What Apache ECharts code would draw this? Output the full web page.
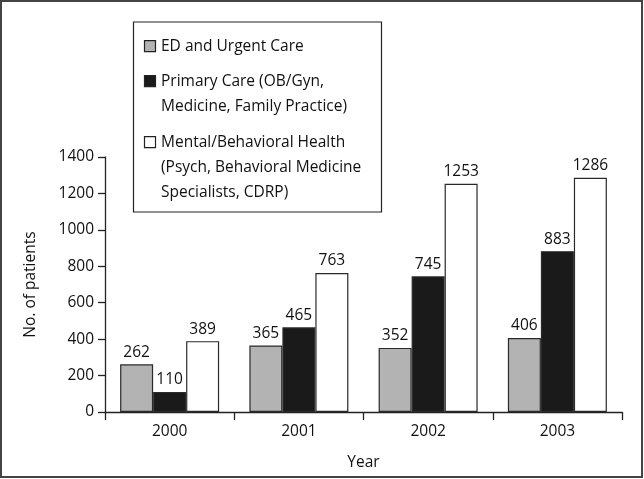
<!DOCTYPE html>
<html>
<head>
<meta charset="utf-8">
<script src="https://cdn.jsdelivr.net/npm/echarts@6/dist/echarts.min.js"></script>
<style>
html,body{margin:0;padding:0;background:#fff;}
#chart{width:644px;height:479px;}
</style>
</head>
<body>
<div id="chart"></div>
<script>
var years = ['2000', '2001', '2002', '2003'];
var seriesNames = [
  'ED and Urgent Care',
  'Primary Care (OB/Gyn, Medicine, Family Practice)',
  'Mental/Behavioral Health (Psych, Behavioral Medicine Specialists, CDRP)'
];
var legendLines = [
  ['ED and Urgent Care'],
  ['Primary Care (OB/Gyn,', 'Medicine, Family Practice)'],
  ['Mental/Behavioral Health', '(Psych, Behavioral Medicine', 'Specialists, CDRP)']
];
var edUrgent = [262, 365, 352, 406];
var primaryCare = [110, 465, 745, 883];
var mentalHealth = [389, 763, 1253, 1286];
var yTicks = [0, 200, 400, 600, 800, 1000, 1200, 1400];

var FONT = '"Open Sans", sans-serif';
var FS = 15.5;
var fills = ['#b3b3b3', '#1a1a1a', '#ffffff'];
var allData = [edUrgent, primaryCare, mentalHealth];

var chart = echarts.init(document.getElementById('chart'), null, {renderer: 'canvas'});

var series = allData.map(function (d, i) {
  return {
    name: seriesNames[i],
    type: 'bar',
    data: d,
    barWidth: 33,
    barGap: '0%',
    itemStyle: {color: fills[i], borderColor: '#2a2a2a', borderWidth: 1.2},
    label: {
      show: true, position: 'top', distance: 4,
      color: '#111', fontFamily: FONT, fontSize: FS
    }
  };
});

var graphics = [
  {type: 'rect', shape: {x: 1, y: 1, width: 641, height: 476},
   style: {fill: null, stroke: '#444', lineWidth: 2}, z: 0, silent: true},
  {type: 'rect', shape: {x: 133.5, y: 22, width: 248, height: 190},
   style: {fill: '#fff', stroke: '#222', lineWidth: 1.2}, z: 10}
];
var firstLineCenters = [46.7, 81.7, 142.7];
legendLines.forEach(function (lines, i) {
  var c = firstLineCenters[i];
  graphics.push({type: 'rect', shape: {x: 144.5, y: c - 6, width: 11, height: 11},
    style: {fill: fills[i], stroke: '#222', lineWidth: 1.2}, z: 11});
  graphics.push({type: 'text', x: 161, y: c - 12.5, z: 11,
    style: {text: lines.join('\n'), font: FS + 'px ' + FONT, fill: '#111',
      lineHeight: 25, verticalAlign: 'top', align: 'left'}});
});

chart.setOption({
  animation: false,
  backgroundColor: '#fff',
  grid: {left: 105, right: 22, top: 157, bottom: 67, containLabel: false},
  xAxis: {
    type: 'category',
    data: years,
    name: 'Year',
    nameLocation: 'middle',
    nameGap: 43,
    nameTextStyle: {color: '#111', fontFamily: FONT, fontSize: FS},
    axisLine: {lineStyle: {color: '#222', width: 1.3}},
    axisTick: {show: true, inside: false, length: 8, lineStyle: {color: '#222', width: 1.3}},
    axisLabel: {color: '#111', fontFamily: FONT, fontSize: FS, margin: 12}
  },
  yAxis: {
    type: 'value',
    min: yTicks[0],
    max: yTicks[yTicks.length - 1],
    interval: yTicks[1] - yTicks[0],
    name: 'No. of patients',
    nameLocation: 'middle',
    nameGap: 66,
    nameRotate: 90,
    nameTextStyle: {color: '#111', fontFamily: FONT, fontSize: FS},
    axisLine: {show: true, lineStyle: {color: '#222', width: 1.3}},
    axisTick: {show: true, inside: false, length: 7, lineStyle: {color: '#222', width: 1.3}},
    axisLabel: {color: '#111', fontFamily: FONT, fontSize: FS, margin: 11,
      formatter: function (v) { return String(v); }},
    splitLine: {show: false}
  },
  series: series,
  graphic: graphics
});
</script>
</body>
</html>
